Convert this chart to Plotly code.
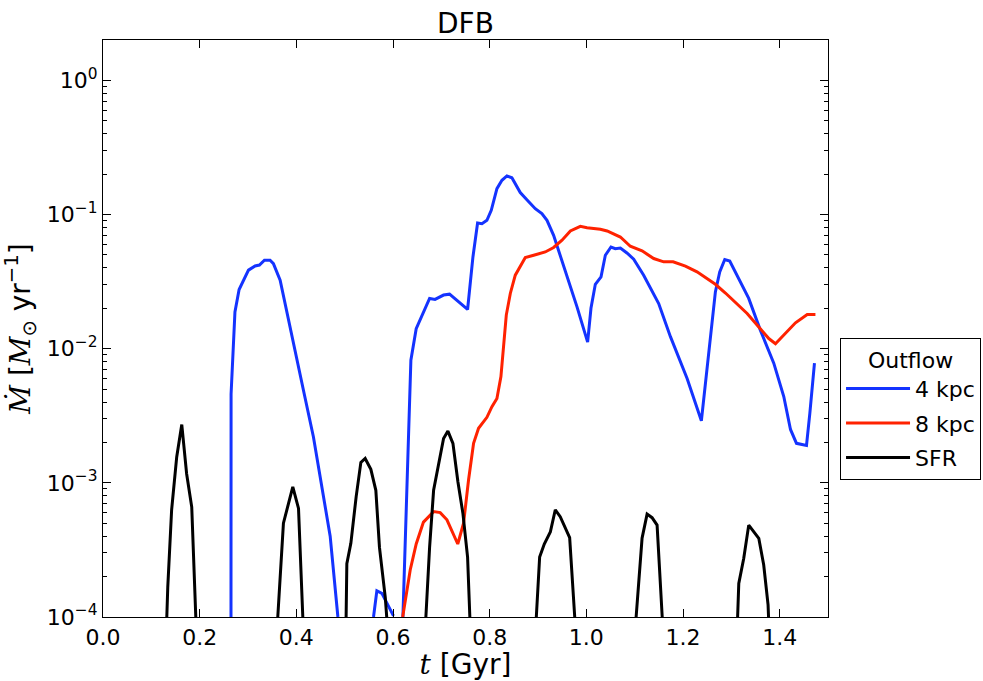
import plotly.graph_objects as go

# ---- data ----
t_blue = [0.2648, 0.265, 0.273, 0.2816, 0.301, 0.3147, 0.3237, 0.334, 0.3457, 0.3526, 0.3665,
          0.3907, 0.4147, 0.4354, 0.4493, 0.47, 0.486, 0.49,
          0.555, 0.5597, 0.5666, 0.577, 0.601, 0.604,
          0.619, 0.6205, 0.637, 0.648, 0.66, 0.6757, 0.687, 0.7046, 0.717, 0.739, 0.7543,
          0.7654, 0.775, 0.784, 0.7943, 0.8033, 0.815, 0.8254, 0.8357, 0.846, 0.8633, 0.877,
          0.8944, 0.908, 0.9186, 0.9323, 0.9565, 0.9807, 1.0027, 1.0096, 1.0186, 1.0304,
          1.0393, 1.051, 1.06, 1.0704, 1.084, 1.098, 1.1186, 1.1497, 1.174, 1.2085, 1.238,
          1.2533, 1.267, 1.276, 1.2864, 1.2967, 1.3154, 1.336, 1.3602, 1.3878, 1.4085,
          1.4224, 1.4348, 1.4555, 1.4624, 1.472]
m_blue = [1.0e-4, 4.6e-3, 0.0188, 0.0276, 0.0385, 0.0414, 0.042, 0.0456, 0.0456, 0.0431, 0.0324,
          0.0122, 4.9e-3, 2.2e-3, 1.1e-3, 4.0e-4, 1.0e-4, None,
          None, 1.0e-4, 1.57e-4, 1.5e-4, 1.02e-4, None,
          None, 1.0e-4, 8.2e-3, 0.0141, 0.0178, 0.0237, 0.0233, 0.0251, 0.0255, 0.0217, 0.0196,
          0.0483, 0.0865, 0.0855, 0.0906, 0.1076, 0.156, 0.18, 0.194, 0.188, 0.146, 0.129,
          0.1106, 0.1016, 0.0906, 0.07, 0.0384, 0.0205, 0.0112, 0.02, 0.0302, 0.0343,
          0.0497, 0.0573, 0.0557, 0.0563, 0.0517, 0.0465, 0.0353, 0.0217, 0.0123, 6.0e-3, 2.9e-3,
          9.2e-3, 0.0265, 0.0373, 0.0462, 0.045, 0.0334, 0.0237, 0.0137, 7.8e-3, 4.4e-3,
          2.5e-3, 1.97e-3, 1.9e-3, 3.3e-3, 7.8e-3]

t_red = [0.62, 0.6356, 0.648, 0.663, 0.684, 0.6977, 0.7116, 0.734, 0.746, 0.7563, 0.7667,
         0.777, 0.7943, 0.8047, 0.815, 0.8233, 0.8344, 0.8427, 0.853, 0.8737, 0.891, 0.9048,
         0.915, 0.9323, 0.9497, 0.967, 0.9876, 1.0014, 1.029, 1.043, 1.0565, 1.0704, 1.091,
         1.1153, 1.1394, 1.16, 1.1795, 1.205, 1.229, 1.25, 1.267, 1.2878, 1.312, 1.3327,
         1.3568, 1.3775, 1.3913, 1.4052, 1.4327, 1.457, 1.474]
m_red = [1.0e-4, 2.24e-4, 3.5e-4, 5.1e-4, 6.1e-4, 6.0e-4, 5.3e-4, 3.5e-4, 5.0e-4, 1.05e-3, 1.97e-3,
         2.55e-3, 3.08e-3, 3.7e-3, 4.26e-3, 6.2e-3, 0.0178, 0.0258, 0.0353, 0.0478, 0.0497, 0.0517,
         0.0526, 0.0568, 0.0643, 0.0754, 0.0817, 0.0797, 0.0777, 0.0754, 0.0713, 0.068, 0.058,
         0.0536, 0.047, 0.0444, 0.0444, 0.0412, 0.0374, 0.0333, 0.0302, 0.026, 0.0217, 0.0183,
         0.0145, 0.0119, 0.0109, 0.0123, 0.0156, 0.018, 0.018]

t_sfr = [0.132, 0.134, 0.142, 0.1525, 0.163, 0.173, 0.1836, 0.192, 0.194,
         0.3616, 0.3733, 0.3927, 0.4045, 0.4134, 0.415,
         0.503, 0.5045, 0.5128, 0.5238, 0.5335, 0.5424, 0.5542, 0.5645, 0.572, 0.584, 0.587, 0.589,
         0.668, 0.6757, 0.684, 0.6943, 0.7046, 0.7136, 0.724, 0.7343, 0.7447, 0.7543, 0.759, 0.761,
         0.8965, 0.9034, 0.913, 0.9255, 0.9358, 0.946, 0.9655, 0.976, 0.978,
         1.103, 1.1153, 1.1257, 1.136, 1.1464, 1.157, 1.159,
         1.313, 1.3154, 1.3257, 1.336, 1.3568, 1.367, 1.376, 1.377]
m_sfr = [1.0e-4, 1.67e-4, 6.3e-4, 1.56e-3, 2.72e-3, 1.17e-3, 6.6e-4, 1.0e-4, None,
         1.0e-4, 5.0e-4, 9.35e-4, 6.45e-4, 1.0e-4, None,
         1.0e-4, 2.5e-4, 3.54e-4, 7.9e-4, 1.42e-3, 1.52e-3, 1.26e-3, 8.8e-4, 3.3e-4, 1.4e-4, 1.0e-4, None,
         1.0e-4, 3.3e-4, 8.8e-4, 1.4e-3, 2.14e-3, 2.43e-3, 1.97e-3, 1.02e-3, 5.9e-4, 2.8e-4, 1.0e-4, None,
         1.0e-4, 2.8e-4, 3.5e-4, 4.3e-4, 6.3e-4, 5.6e-4, 3.9e-4, 1.0e-4, None,
         1.0e-4, 3.86e-4, 5.85e-4, 5.5e-4, 4.84e-4, 1.0e-4, None,
         1.0e-4, 1.78e-4, 2.74e-4, 4.84e-4, 3.86e-4, 2.44e-4, 1.23e-4, 1.0e-4]

x_ticks = [0.0, 0.2, 0.4, 0.6, 0.8, 1.0, 1.2, 1.4]
y_tick_vals = [1e-4, 1e-3, 1e-2, 1e-1, 1e0]
y_tick_text = ["10<sup>−4</sup>", "10<sup>−3</sup>", "10<sup>−2</sup>", "10<sup>−1</sup>", "10<sup>0</sup>"]
minor_vals = [m * 10.0 ** e for e in range(-4, 1) for m in range(2, 10)]

BLUE = "#1433ff"
RED = "#ff2200"
BLACK = "#000000"
FONT = "DejaVu Sans"

fig = go.Figure()
fig.add_trace(go.Scatter(x=t_blue, y=m_blue, mode="lines", name="4 kpc", legendgroup="a",
                         line=dict(color=BLUE, width=3)))
fig.add_trace(go.Scatter(x=t_red, y=m_red, mode="lines", name="8 kpc", legendgroup="b",
                         line=dict(color=RED, width=3)))
fig.add_trace(go.Scatter(x=t_sfr, y=m_sfr, mode="lines", name="SFR", legendgroup="c",
                         line=dict(color=BLACK, width=3)))

axis_common = dict(showline=True, linecolor="black", linewidth=1.3, mirror="allticks",
                   ticks="inside", tickcolor="black", showgrid=False, zeroline=False,
                   tickfont=dict(family=FONT, size=22, color="black"))

fig.update_xaxes(range=[0, 1.5], tickvals=x_ticks, ticktext=[f"{v:.1f}" for v in x_ticks],
                 ticklen=8, tickwidth=1,
                 title=dict(text='<span style="font-family:DejaVu Serif"><i>t</i></span> [Gyr]',
                            font=dict(family=FONT, size=28, color="black"), standoff=4),
                 **axis_common)
fig.update_yaxes(type="log", range=[-4, 0.301], tickvals=y_tick_vals, ticktext=y_tick_text,
                 ticklen=8, tickwidth=1,
                 minor=dict(ticks="inside", tickvals=minor_vals, ticklen=4, tickcolor="black", tickwidth=1),
                 title=dict(text='<span style="font-family:DejaVu Serif"><i>M\u0307</i></span> '
                                 '[<span style="font-family:DejaVu Serif"><i>M</i></span><sub>⊙</sub> yr<sup>−1</sup>]',
                            font=dict(family=FONT, size=28, color="black"), standoff=10),
                 **axis_common)

fig.update_layout(
    width=983, height=681,
    margin=dict(l=103, r=155, t=40, b=64, autoexpand=False),
    paper_bgcolor="white", plot_bgcolor="white",
    font=dict(family=FONT, color="black"),
    title=dict(text="DFB", x=0.4735, xanchor="center", y=0.966, yanchor="middle",
               font=dict(family=FONT, size=28, color="black")),
    legend=dict(x=1.0166, y=0.4835, xanchor="left", yanchor="top",
                bordercolor="black", borderwidth=1, bgcolor="white",
                font=dict(family=FONT, size=22, color="black"),
                title=dict(text="Outflow", side="top center", font=dict(family=FONT, size=22)),
                itemwidth=64, tracegroupgap=3),
    showlegend=True,
)

fig.write_html("out.html")
